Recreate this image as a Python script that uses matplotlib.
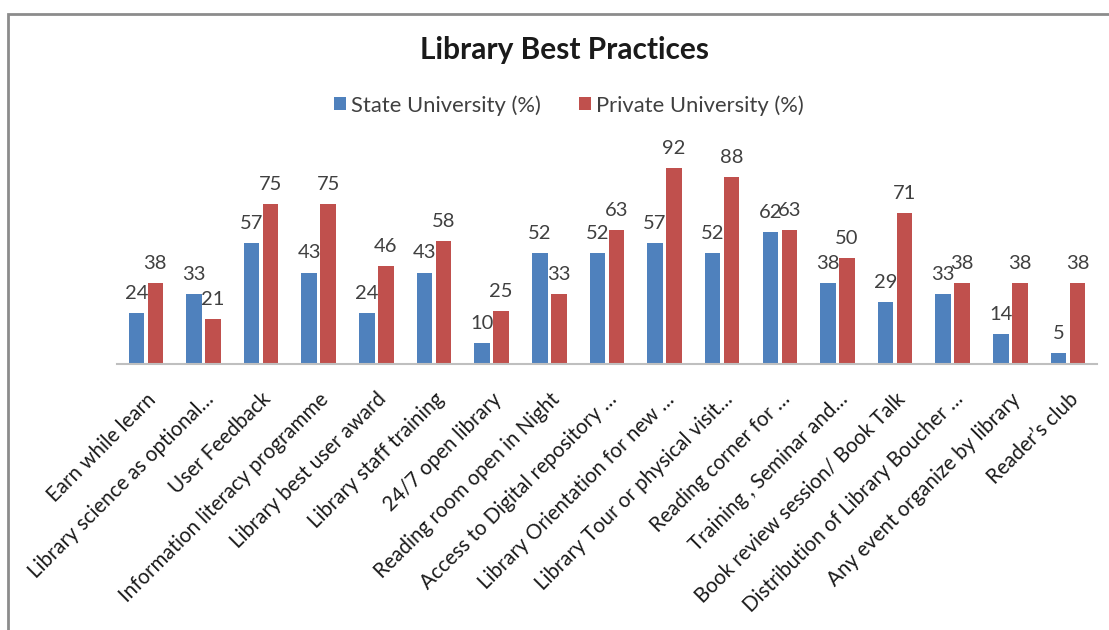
import numpy as np
import matplotlib.pyplot as plt
from matplotlib.patches import Rectangle

plt.rcParams['font.family'] = ['Lato', 'DejaVu Sans']

# data
categories = [
    'Earn while learn',
    'Library science as optional…',
    'User Feedback',
    'Information literacy programme',
    'Library best user award',
    'Library staff training',
    '24/7 open library',
    'Reading room open in Night',
    'Access to Digital repository …',
    'Library Orientation for new …',
    'Library Tour or physical visit…',
    'Reading corner for …',
    'Training , Seminar and…',
    'Book review session/ Book Talk',
    'Distribution of Library Boucher …',
    'Any event organize by library',
    'Reader’s club',
]
state = [24, 33, 57, 43, 24, 43, 10, 52, 52, 57, 52, 62, 38, 29, 33, 14, 5]
private = [38, 21, 75, 75, 46, 58, 25, 33, 63, 92, 88, 63, 50, 71, 38, 38, 38]

blue = '#4F81BD'
red = '#C0504D'

fig = plt.figure(figsize=(11.09, 6.30), dpi=100, facecolor='white')
ax = fig.add_axes([0.1055, 0.422, 0.8835, 0.338])

x = np.arange(len(categories))
w = 0.27
off = 0.165
b1 = ax.bar(x - off, state, w, color=blue, label='State University (%)')
b2 = ax.bar(x + off, private, w, color=red, label='Private University (%)')

for bars in (b1, b2):
    ax.bar_label(bars, padding=8, fontsize=14.5, color='#404040')

ax.set_xlim(-0.5, len(categories) - 0.5)
ax.set_ylim(0, 100)
ax.set_yticks([])
for s in ['top', 'right', 'left']:
    ax.spines[s].set_visible(False)
ax.spines['bottom'].set_color('#BFBFBF')
ax.spines['bottom'].set_linewidth(1.5)

ax.set_xticks(x)
ax.set_xticklabels(categories, rotation=45, ha='right', va='top',
                   rotation_mode='anchor', fontsize=14.8, color='#1a1a1a')
ax.tick_params(axis='x', length=0, pad=18)

fig.text(0.509, 0.92, 'Library Best Practices', ha='center', va='center',
         fontsize=21.5, fontweight='bold', color='#1a1a1a')

fig.legend(handles=[b1, b2], loc='center', bbox_to_anchor=(0.513, 0.833),
           ncol=2, frameon=False, fontsize=15.8, handlelength=0.55,
           handleheight=0.55, handletextpad=0.25, columnspacing=1.7,
           labelcolor='#404040')

# outer chart frame
fig.patches.append(Rectangle((8 / 1109, -0.1), 1.2, 1 - 14 / 630 + 0.1,
                             transform=fig.transFigure, fill=False,
                             edgecolor='#8c8c8c', linewidth=2))

plt.savefig('out.png', dpi=100, facecolor='white')
